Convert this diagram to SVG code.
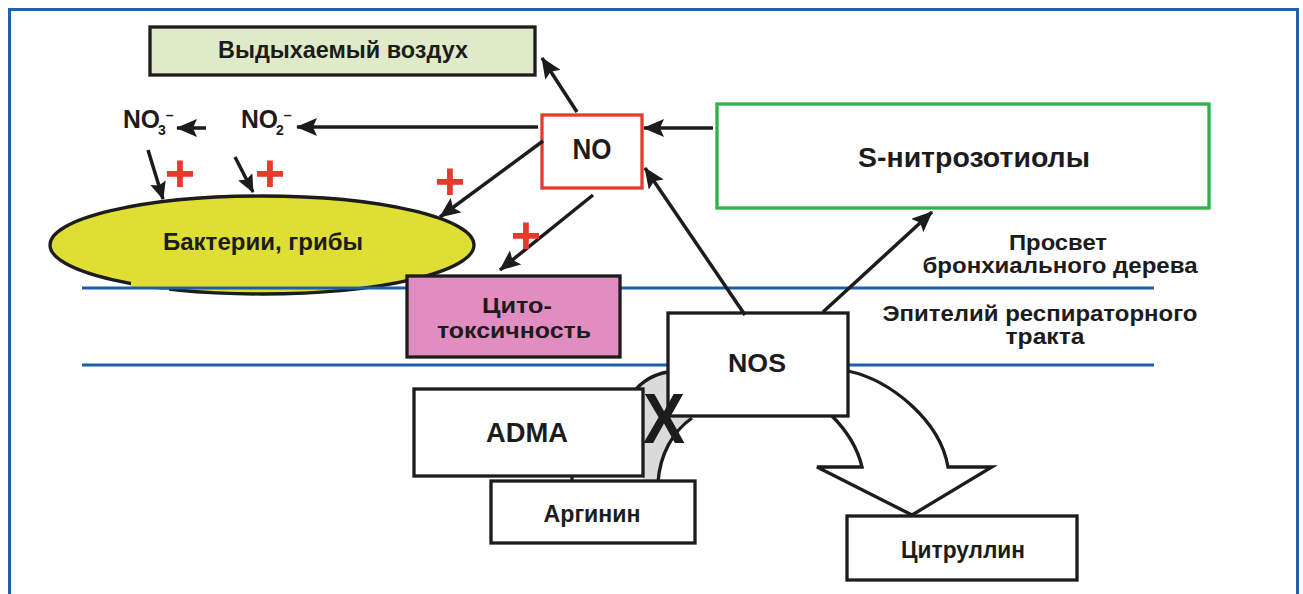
<svg xmlns="http://www.w3.org/2000/svg" width="1303" height="594" viewBox="0 0 1303 594">
<style>
text{font-family:"Liberation Sans",Arial,sans-serif;font-weight:bold;fill:#1c1c1c;text-anchor:middle}
.box{fill:#fff;stroke:#1c1c1c;stroke-width:3.3}
.blue{stroke:#1d5eab;stroke-width:3;fill:none}
.arr{stroke:#1c1c1c;stroke-width:3.5;fill:none;marker-end:url(#ah)}
.arrs{stroke:#1c1c1c;stroke-width:3.5;fill:none;marker-end:url(#ahs)}
.plus{fill:#e8392d;font-size:52px}
.ln{stroke:#1c1c1c;stroke-width:3.3;fill:none}
</style>
<defs>
<marker id="ah" markerWidth="22" markerHeight="18" refX="20" refY="9" orient="auto" markerUnits="userSpaceOnUse"><path d="M0,0 L21,9 L0,18 L4,9 Z" fill="#1c1c1c"/></marker>
<marker id="ahs" markerWidth="18" markerHeight="16" refX="17" refY="8" orient="auto" markerUnits="userSpaceOnUse"><path d="M0,0 L18,8 L0,16 L3,8 Z" fill="#1c1c1c"/></marker>
</defs>
<rect x="9.5" y="9.5" width="1288" height="600" fill="none" stroke="#1f5fb0" stroke-width="3"/>

<g id="bacteria">
<ellipse cx="262" cy="245" rx="212" ry="49" fill="#dede34" stroke="#1c1c1c" stroke-width="3.3"/>
<rect x="131" y="277" width="42" height="11" fill="#dede34"/>
<rect x="131" y="289.5" width="38" height="7" fill="#fff"/>
<text x="263" y="250" font-size="24" textLength="200" lengthAdjust="spacingAndGlyphs">Бактерии, грибы</text>
</g>

<g id="layers">
<line class="blue" x1="82" y1="288" x2="1154" y2="288"/>
<line class="blue" x1="82" y1="365" x2="1154" y2="365"/>
<text x="1058" y="250" font-size="22" textLength="98" lengthAdjust="spacingAndGlyphs">Просвет</text>
<text x="1060" y="273" font-size="22" textLength="275" lengthAdjust="spacingAndGlyphs">бронхиального дерева</text>
<text x="1040" y="321" font-size="22" textLength="315" lengthAdjust="spacingAndGlyphs">Эпителий респираторного</text>
<text x="1045" y="344" font-size="22" textLength="79" lengthAdjust="spacingAndGlyphs">тракта</text>
</g>

<g id="reactions">
<path d="M668,372 C650,375 636,388 630,410 L643,476 L643,481 L658,481 C660,455 672,432 692,418 L692,372 Z" fill="#dadada"/>
<path class="ln" d="M668,372 C655,374 642,381 633,393"/>
<path class="ln" d="M658,482 C660,455 672,432 692,418"/>
<path d="M848,371 C890,380 940,420 948,467 L992,467 L912,515 L817,467 L862,467 C858,450 848,432 832,416 L832,371 Z" fill="#fff" stroke="#1c1c1c" stroke-width="3.3" stroke-linejoin="miter"/>
</g>

<g id="exhaled">
<rect x="150" y="27" width="385" height="48" fill="#dfeac8" stroke="#1c1c1c" stroke-width="3.3"/>
<text x="343" y="58" font-size="23" textLength="250" lengthAdjust="spacingAndGlyphs">Выдыхаемый воздух</text>
</g>

<g id="no">
<rect x="542" y="115" width="100" height="73" fill="#fff" stroke="#e8392d" stroke-width="3.3"/>
<text x="592" y="159" font-size="29" textLength="39" lengthAdjust="spacingAndGlyphs">NO</text>
</g>

<g id="snitroso">
<rect x="717" y="104" width="492" height="104" fill="#fff" stroke="#2eb04b" stroke-width="3.3"/>
<text x="974" y="167" font-size="28" textLength="232" lengthAdjust="spacingAndGlyphs">S-нитрозотиолы</text>
</g>

<g id="no2">
<text x="241" y="128" font-size="25" style="text-anchor:start"><tspan textLength="37" lengthAdjust="spacingAndGlyphs">NO</tspan><tspan font-size="14" dx="-2" dy="7">2</tspan><tspan font-size="14" dy="-15">–</tspan></text>
</g>
<g id="no3">
<text x="123" y="128" font-size="25" style="text-anchor:start"><tspan textLength="37" lengthAdjust="spacingAndGlyphs">NO</tspan><tspan font-size="14" dx="-2" dy="7">3</tspan><tspan font-size="14" dy="-15">–</tspan></text>
</g>

<g id="cytotox">
<rect x="407" y="276" width="213" height="81" fill="#e28dc2" stroke="#1c1c1c" stroke-width="3.3"/>
<text x="517" y="313" font-size="22" textLength="70" lengthAdjust="spacingAndGlyphs">Цито-</text>
<text x="514" y="338" font-size="22" textLength="154" lengthAdjust="spacingAndGlyphs">токсичность</text>
</g>

<g id="nos">
<rect class="box" x="668" y="313" width="180" height="103"/>
<text x="757" y="372" font-size="26" textLength="58" lengthAdjust="spacingAndGlyphs">NOS</text>
</g>

<g id="adma">
<rect class="box" x="414" y="389" width="229" height="87"/>
<text x="527" y="442" font-size="27" textLength="82" lengthAdjust="spacingAndGlyphs">ADMA</text>
</g>

<g id="arginine">
<line class="ln" x1="572" y1="476" x2="572" y2="481"/>
<rect class="box" x="491" y="481" width="204" height="62"/>
<text x="592" y="522" font-size="23" textLength="97" lengthAdjust="spacingAndGlyphs">Аргинин</text>
</g>

<g id="citrulline">
<rect class="box" x="847" y="516" width="230" height="64"/>
<text x="963" y="558" font-size="23" textLength="124" lengthAdjust="spacingAndGlyphs">Цитруллин</text>
</g>

<g id="connectors">
<line class="arr" x1="577" y1="112" x2="542" y2="58"/>
<line class="arr" x1="713" y1="128" x2="644" y2="128"/>
<line class="arr" x1="538" y1="127" x2="297" y2="127"/>
<line class="arr" x1="206" y1="128" x2="177" y2="128"/>
<line class="arrs" x1="148" y1="150" x2="163" y2="199"/>
<line class="arrs" x1="235" y1="157" x2="253" y2="192"/>
<line class="arr" x1="543" y1="141" x2="440" y2="217"/>
<line class="arr" x1="593" y1="195" x2="500" y2="270"/>
<line class="arr" x1="745" y1="315" x2="645" y2="168"/>
<line class="arr" x1="823" y1="312" x2="932" y2="212"/>
</g>

<g id="marks">
<text class="plus" x="180" y="191">+</text>
<text class="plus" x="270" y="191">+</text>
<text class="plus" x="450" y="199">+</text>
<text class="plus" x="526" y="253">+</text>
<text x="664" y="443" font-size="70" textLength="42" lengthAdjust="spacingAndGlyphs">X</text>
</g>
</svg>
